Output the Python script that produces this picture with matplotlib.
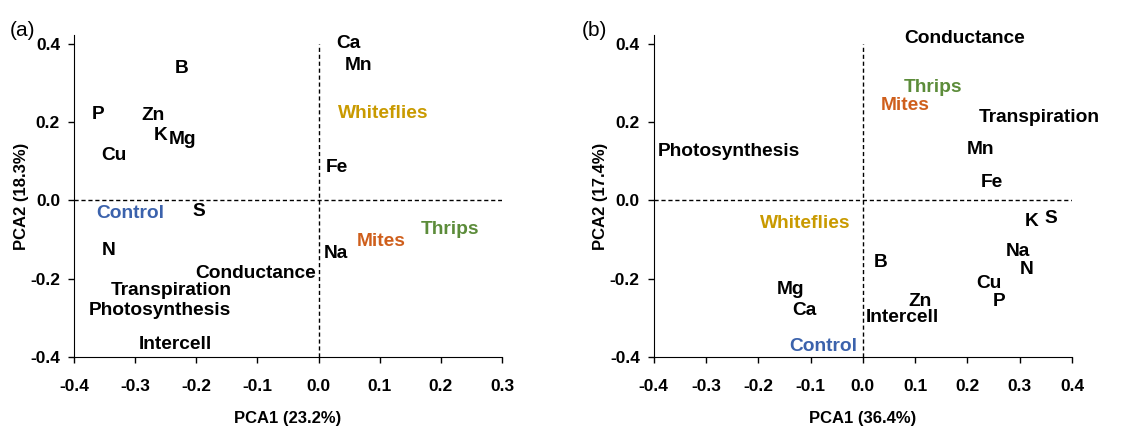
import matplotlib
matplotlib.use('Agg')
import matplotlib.pyplot as plt

# panel (a): label positions (left edge, vertical centre)
a_labels = ['Ca', 'Mn', 'B', 'P', 'Zn', 'K', 'Mg', 'Cu', 'Whiteflies', 'Fe',
            'Control', 'S', 'Thrips', 'Mites', 'Na', 'N', 'Conductance',
            'Transpiration', 'Photosynthesis', 'Intercell']
a_x = [0.029, 0.043, -0.236, -0.371, -0.290, -0.269, -0.245, -0.355, 0.032, 0.012,
       -0.363, -0.207, 0.167, 0.062, 0.009, -0.354, -0.201,
       -0.340, -0.376, -0.294]
a_y = [0.402, 0.346, 0.338, 0.220, 0.217, 0.167, 0.155, 0.114, 0.223, 0.084,
       -0.033, -0.029, -0.075, -0.105, -0.135, -0.127, -0.186,
       -0.231, -0.282, -0.368]

# panel (b)
b_labels = ['Conductance', 'Thrips', 'Mites', 'Transpiration', 'Photosynthesis',
            'Mn', 'Fe', 'Whiteflies', 'K', 'S', 'Na', 'N', 'B', 'Cu', 'P',
            'Mg', 'Zn', 'Ca', 'Intercell', 'Control']
b_x = [0.080, 0.079, 0.034, 0.222, -0.392,
       0.199, 0.225, -0.197, 0.310, 0.348, 0.273, 0.300, 0.021, 0.216, 0.249,
       -0.164, 0.087, -0.135, 0.006, -0.140]
b_y = [0.413, 0.290, 0.243, 0.213, 0.125,
       0.131, 0.046, -0.060, -0.054, -0.046, -0.131, -0.176, -0.158, -0.212, -0.257,
       -0.228, -0.257, -0.282, -0.298, -0.374]

a_xticks = [-0.4, -0.3, -0.2, -0.1, 0.0, 0.1, 0.2, 0.3]
b_xticks = [-0.4, -0.3, -0.2, -0.1, 0.0, 0.1, 0.2, 0.3, 0.4]
yticks = [-0.4, -0.2, 0.0, 0.2, 0.4]

colors = {'Whiteflies': '#C99A00', 'Control': '#3B62AC',
          'Mites': '#CF5F1C', 'Thrips': '#5C8C3A'}

label_font = ['Liberation Sans', 'DejaVu Sans']

fig = plt.figure(figsize=(11.48, 4.29), dpi=100)
W, H = 1148.0, 429.0


def panel(rect, labels, xs, ys, xticks, xlabel, ylabel, tag, tag_x):
    ax = fig.add_axes(rect)
    ax.set_xlim(xticks[0], xticks[-1])
    ax.set_ylim(-0.4, 0.423)
    ax.axhline(0, color='black', ls='--', lw=1.0, dashes=(3, 2))
    ax.plot([0, 0], [-0.4, 0.4], color='black', ls='--', lw=1.0, dashes=(3, 2))
    for lab, x, y in zip(labels, xs, ys):
        ax.text(x, y, lab, ha='left', va='center', fontsize=13.8, fontweight='bold',
                family=label_font, color=colors.get(lab, 'black'), clip_on=False)
    ax.spines['top'].set_visible(False)
    ax.spines['right'].set_visible(False)
    ax.set_xticks(xticks)
    ax.set_yticks(yticks)
    ax.set_xticklabels(['%.1f' % t for t in xticks])
    ax.set_yticklabels(['%.1f' % t for t in yticks])
    ax.tick_params(direction='out', length=4, width=1)
    ax.tick_params(axis='x', pad=12)
    ax.tick_params(axis='y', pad=6)
    for t in ax.get_xticklabels() + ax.get_yticklabels():
        t.set_family(label_font)
        t.set_fontweight('bold')
        t.set_fontsize(12.5)
    ax.set_xlabel(xlabel, family=label_font, fontweight='bold', fontsize=12)
    ax.set_ylabel(ylabel, family=label_font, fontweight='bold', fontsize=12)
    w_px = rect[2] * W
    h_px = rect[3] * H
    ax.xaxis.set_label_coords(0.5, -(418 - 357) / h_px)
    ax.xaxis.label.set_verticalalignment('center')
    ax.yaxis.set_label_coords(-53 / w_px, 0.5)
    ax.yaxis.label.set_verticalalignment('center')
    fig.text(tag_x / W, 1 - 31 / H, tag, fontsize=15, family=label_font,
             ha='left', va='center')
    return ax


bottom = 1 - 357 / H
height = (357 - 35) / H
panel([74 / W, bottom, 428 / W, height], a_labels, a_x, a_y, a_xticks,
      'PCA1 (23.2%)', 'PCA2 (18.3%)', '(a)', 10)
panel([653.7 / W, bottom, 418.3 / W, height], b_labels, b_x, b_y, b_xticks,
      'PCA1 (36.4%)', 'PCA2 (17.4%)', '(b)', 582)

fig.savefig('out.png', dpi=100)
